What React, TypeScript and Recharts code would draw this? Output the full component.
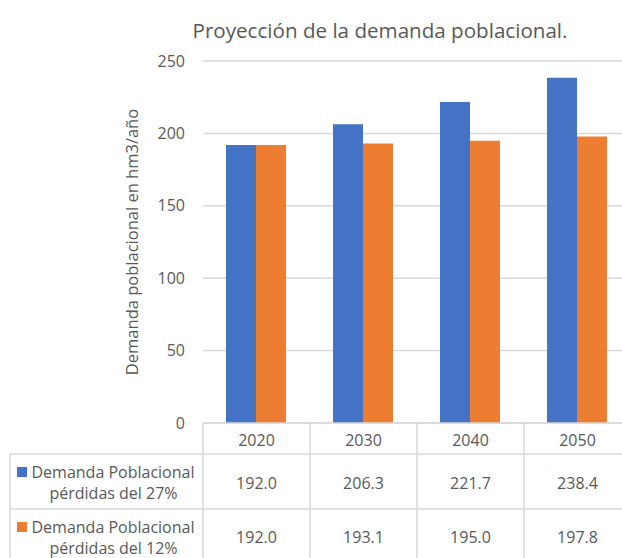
import React from 'react';
import { BarChart, Bar, XAxis, YAxis, CartesianGrid } from 'recharts';

const years = ['2020', '2030', '2040', '2050'];
const demand27 = [192.0, 206.3, 221.7, 238.4];
const demand12 = [192.0, 193.1, 195.0, 197.8];
const seriesLine1 = ['Demanda Poblacional', 'Demanda Poblacional'];
const seriesLine2 = ['pérdidas del 27%', 'pérdidas del 12%'];
const yTicks = [0, 50, 100, 150, 200, 250];
const title = 'Proyección de la demanda poblacional.';
const yLabel = 'Demanda poblacional en hm3/año';

const data = years.map((y, i) => ({ year: y, d27: demand27[i], d12: demand12[i] }));

const BLUE = '#4472C4';
const ORANGE = '#ED7D31';
const TEXT = '#595959';
const GRID = '#d9d9d9';
const FONT = '"Open Sans", "Liberation Sans", sans-serif';
const FS = 16;

const W = 640;
const H = 558;
const PLOT_LEFT = 203;
const PLOT_TOP = 61;
const PLOT_BOTTOM = 423;
const MARGIN_RIGHT = 9;
const PLOT_W = W - PLOT_LEFT - MARGIN_RIGHT;
const BAND = PLOT_W / years.length;
const ROW1 = 454;
const ROW2 = 509;
const TABLE_BOTTOM = 566;
const TABLE_LEFT = 10;

const YTick = (props: any) => {
  const { y, payload } = props;
  return (
    <text x={PLOT_LEFT - 18} y={y} dy={5.5} textAnchor="end" fill={TEXT} fontSize={FS} fontFamily={FONT}>
      {payload.value}
    </text>
  );
};

const ColumnTick = (props: any) => {
  const { x, payload } = props;
  const i = years.indexOf(payload.value);
  const left = x - BAND / 2;
  const right = x + BAND / 2;
  return (
    <g>
      <line x1={left} y1={PLOT_BOTTOM} x2={left} y2={TABLE_BOTTOM} stroke={GRID} strokeWidth={1.5} />
      {i === years.length - 1 && (
        <line x1={right} y1={PLOT_BOTTOM} x2={right} y2={TABLE_BOTTOM} stroke={GRID} strokeWidth={1.5} />
      )}
      <text x={x} y={446} textAnchor="middle" fill={TEXT} fontSize={FS} fontFamily={FONT}>
        {payload.value}
      </text>
      <text x={x} y={489} textAnchor="middle" fill={TEXT} fontSize={FS} fontFamily={FONT}>
        {demand27[i].toFixed(1)}
      </text>
      <text x={x} y={543} textAnchor="middle" fill={TEXT} fontSize={FS} fontFamily={FONT}>
        {demand12[i].toFixed(1)}
      </text>
    </g>
  );
};

export default function App() {
  const colors = [BLUE, ORANGE];
  const rowTops = [ROW1, ROW2];
  return (
    <div style={{ position: 'absolute', left: 0, top: 0, width: 622, height: 558, overflow: 'hidden', background: '#fff' }}>
      <BarChart
        width={W}
        height={H}
        data={data}
        margin={{ top: PLOT_TOP, right: MARGIN_RIGHT, bottom: 0, left: 0 }}
        barCategoryGap="21.5%"
        barGap={0}
      >
        <CartesianGrid vertical={false} stroke={GRID} strokeWidth={1.5} />
        <XAxis
          dataKey="year"
          height={H - PLOT_BOTTOM}
          axisLine={{ stroke: GRID, strokeWidth: 1.5 }}
          tickLine={false}
          tick={<ColumnTick />}
          interval={0}
        />
        <YAxis
          width={PLOT_LEFT}
          domain={[0, 250]}
          ticks={yTicks}
          axisLine={false}
          tickLine={false}
          tick={<YTick />}
          label={{
            value: yLabel,
            angle: -90,
            position: 'insideLeft',
            offset: 132,
            fill: TEXT,
            fontSize: 16.5,
            fontFamily: FONT,
            style: { textAnchor: 'middle' },
          }}
        />
        <Bar dataKey="d27" fill={BLUE} isAnimationActive={false} />
        <Bar dataKey="d12" fill={ORANGE} isAnimationActive={false} />
      </BarChart>
      <svg
        width={622}
        height={558}
        style={{ position: 'absolute', left: 0, top: 0, pointerEvents: 'none' }}
      >
        <text x={380} y={38} textAnchor="middle" fill={TEXT} fontSize={20.6} fontFamily={FONT}>
          {title}
        </text>
        <line x1={TABLE_LEFT} y1={ROW1} x2={W} y2={ROW1} stroke={GRID} strokeWidth={1.5} />
        <line x1={TABLE_LEFT} y1={ROW2} x2={W} y2={ROW2} stroke={GRID} strokeWidth={1.5} />
        <line x1={TABLE_LEFT} y1={ROW1} x2={TABLE_LEFT} y2={TABLE_BOTTOM} stroke={GRID} strokeWidth={1.5} />
        {rowTops.map((top, k) => (
          <g key={k}>
            <rect x={17} y={top + 13} width={10} height={10} fill={colors[k]} />
            <text x={113} y={top + 24} textAnchor="middle" fill={TEXT} fontSize={FS} fontFamily={FONT}>
              {seriesLine1[k]}
            </text>
            <text x={113.5} y={top + 45} textAnchor="middle" fill={TEXT} fontSize={FS} fontFamily={FONT}>
              {seriesLine2[k]}
            </text>
          </g>
        ))}
      </svg>
    </div>
  );
}
